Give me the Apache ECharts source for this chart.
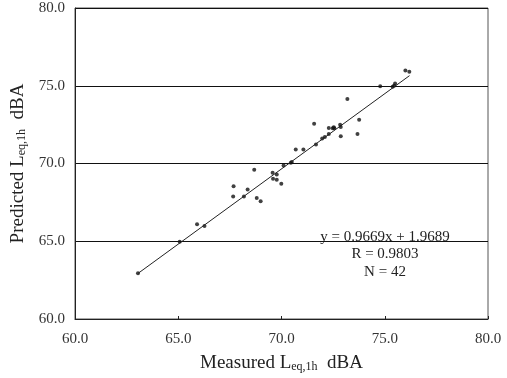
<!DOCTYPE html>
<html>
<head>
<meta charset="utf-8">
<script src="https://cdn.jsdelivr.net/npm/echarts@6/dist/echarts.min.js"></script>
<style>
  html, body { margin: 0; padding: 0; background: #fff; }
  #chart { width: 507px; height: 378px; }
</style>
</head>
<body>
<div id="chart"></div>
<script>
// measured vs predicted (dBA)
var measured = [63.05, 65.07, 65.91, 66.27, 67.66, 67.68, 68.18, 68.36, 68.68, 68.80,
  68.99, 69.57, 69.77, 69.59, 69.77, 69.99, 70.10, 70.50, 70.45, 70.69,
  71.06, 71.67, 71.58, 71.97, 72.10, 72.29, 72.29, 72.48, 72.53, 72.56,
  72.84, 72.87, 72.87, 73.19, 73.68, 73.76, 74.78, 75.38, 75.50, 75.45,
  76.00, 76.19];
var predicted = [62.95, 64.97, 66.09, 65.98, 67.88, 68.53, 67.88, 68.33, 69.60, 67.78,
  67.58, 69.40, 69.29, 69.02, 68.96, 68.70, 69.87, 70.10, 70.05, 70.90,
  70.90, 71.22, 72.56, 71.60, 71.71, 71.90, 72.29, 72.26, 72.33, 72.26,
  72.50, 72.35, 71.75, 74.15, 71.90, 72.82, 74.96, 74.94, 75.15, 75.00,
  75.98, 75.90];
// fitted line end points
var fitX = [63.05, 76.2];
var fitY = [62.93, 75.65];
var statsText = ['y = 0.9669x + 1.9689', 'R = 0.9803', 'N = 42'];

var pts = measured.map(function (x, i) { return [x, predicted[i]]; });
var fit = fitX.map(function (x, i) { return [x, fitY[i]]; });

var serif = '"Liberation Serif", "DejaVu Serif", serif';
var titleRich = {
  a: { fontSize: 19, color: '#222', fontFamily: serif },
  s: { fontSize: 12, color: '#222', fontFamily: serif, verticalAlign: 'bottom', padding: [6, 0, 0, 0] }
};
var chart = echarts.init(document.getElementById('chart'));
chart.setOption({
  animation: false,
  textStyle: { fontFamily: serif },
  grid: {
    left: 75, right: 19, top: 8, bottom: 58,
    show: true, borderColor: '#555', borderWidth: 1
  },
  xAxis: {
    type: 'value', min: 60, max: 80, interval: 5,
    axisLine: { lineStyle: { color: '#222' } },
    axisTick: { inside: true, length: 3, lineStyle: { color: '#222' } },
    axisLabel: {
      margin: 13, color: '#333', fontSize: 15, fontFamily: serif,
      formatter: function (v) { return v.toFixed(1); }
    },
    splitLine: { show: false },
    name: '{a|Measured L}{s|eq,1h}{a|  dBA}',
    nameLocation: 'middle', nameGap: 35,
    nameTextStyle: { rich: titleRich }
  },
  yAxis: {
    type: 'value', min: 60, max: 80, interval: 5,
    axisLine: { lineStyle: { color: '#222' } },
    axisTick: { show: false },
    axisLabel: {
      margin: 10, color: '#333', fontSize: 15, fontFamily: serif,
      formatter: function (v) { return v.toFixed(1); }
    },
    splitLine: { show: true, lineStyle: { color: '#111', width: 1 } },
    name: '{a|Predicted L}{s|eq,1h}{a|  dBA}',
    nameLocation: 'middle', nameGap: 45, nameRotate: 90,
    nameTextStyle: { rich: titleRich }
  },
  series: [
    {
      type: 'line', data: fit, symbol: 'none',
      lineStyle: { color: '#222', width: 1 }
    },
    {
      type: 'scatter', data: pts, symbol: 'circle', symbolSize: 4,
      itemStyle: { color: '#111' }
    }
  ],
  graphic: statsText.map(function (t, i) {
    return {
      type: 'text', x: 385, y: 237 + i * 17.5,
      style: {
        text: t, fill: '#222', fontSize: 15, fontFamily: serif,
        textAlign: 'center', textVerticalAlign: 'middle'
      }
    };
  })
});
</script>
</body>
</html>
